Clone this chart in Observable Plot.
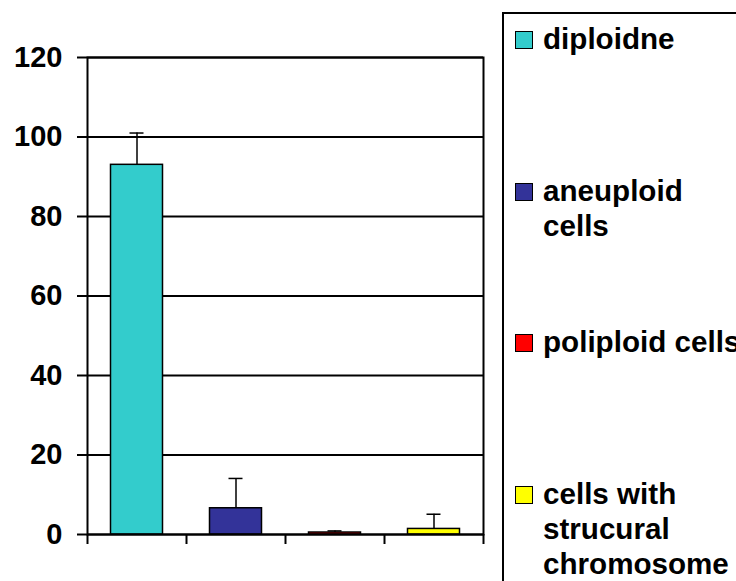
<!DOCTYPE html>
<html>
<head>
<meta charset="utf-8">
<script src="https://cdn.jsdelivr.net/npm/d3@7"></script>
<script src="https://cdn.jsdelivr.net/npm/@observablehq/plot@0.6"></script>
<style>
  html, body { margin: 0; padding: 0; background: #fff; }
  #wrap { position: relative; width: 736px; height: 581px; overflow: hidden; font-family: "Liberation Sans", Arial, sans-serif; }
  #chart { position: absolute; left: 0; top: 0; }
  #legend { position: absolute; left: 502px; top: 12px; width: 400px; height: 700px;
    border-left: 2px solid #000; border-top: 2px solid #000; box-sizing: border-box; }
  .item { position: absolute; left: 0; height: 152px; }
  .sw { position: absolute; left: 11px; top: 10px; width: 18px; height: 18px; box-sizing: border-box; border: 1.5px solid #000; }
  .lab { position: absolute; left: 39px; top: 0; font-weight: bold; font-size: 29.6px; line-height: 35px; white-space: pre; color: #000; }
</style>
</head>
<body>
<div id="wrap">
  <div id="chart"></div>
  <div id="legend"></div>
</div>
<script>
const categories = ["diploidne", "aneuploid cells", "poliploid cells", "cells with strucural chromosome"];
const values = [93, 6.6, 0.5, 1.4];
const errors = [8, 7.5, 0.4, 3.7];
const colors = ["#33CCCC", "#333399", "#FF0000", "#FFFF00"];
const yTicks = [0, 20, 40, 60, 80, 100, 120];
const legendLabels = ["diploidne", "aneuploid\ncells", "poliploid cells", "cells with\nstrucural\nchromosome"];

const data = categories.map((c, i) => ({cat: c, idx: i, value: values[i], err: errors[i]}));
const boundaries = d3.range(categories.length + 1);
const capHalf = 7 / 99;

const chart = Plot.plot({
  width: 503,
  height: 581,
  marginLeft: 87,
  marginRight: 20,
  marginTop: 57,
  marginBottom: 47,
  style: {fontFamily: "'Liberation Sans', Arial, sans-serif", fontSize: "29px", fontWeight: "bold", color: "#000", background: "transparent"},
  x: {type: "linear", domain: [0, categories.length]},
  y: {domain: [0, 120]},
  color: {domain: categories, range: colors},
  marks: [
    Plot.gridY(yTicks, {stroke: "#000", strokeOpacity: 1, strokeWidth: 2}),
    Plot.axisY(yTicks, {tickSize: 10, tickPadding: 15, strokeWidth: 2, label: null, fill: "#000"}),
    Plot.axisX(boundaries, {tickSize: 10, tickFormat: () => "", strokeWidth: 2, label: null}),
    Plot.rectY(data, {x1: "idx", x2: d => d.idx + 1, y1: 0, y2: "value", fill: "cat", stroke: "#000", strokeWidth: 1.5, insetLeft: 23.5, insetRight: 23.5}),
    Plot.ruleX(data, {x: d => d.idx + 0.5, y1: "value", y2: d => d.value + d.err, stroke: "#000", strokeWidth: 1.5}),
    Plot.ruleY(data, {y: d => d.value + d.err, x1: d => d.idx + 0.5 - capHalf, x2: d => d.idx + 0.5 + capHalf, stroke: "#000", strokeWidth: 1.5}),
    Plot.frame({stroke: "#000", strokeWidth: 2})
  ]
});
document.getElementById("chart").appendChild(chart);

const colorScale = chart.scale("color");
const legend = d3.select("#legend");
categories.forEach((c, i) => {
  const item = legend.append("div").attr("class", "item").style("top", (7 + i * 151.6) + "px");
  item.append("div").attr("class", "sw").style("background", colorScale.apply(c));
  item.append("div").attr("class", "lab").text(legendLabels[i]);
});
</script>
</body>
</html>
